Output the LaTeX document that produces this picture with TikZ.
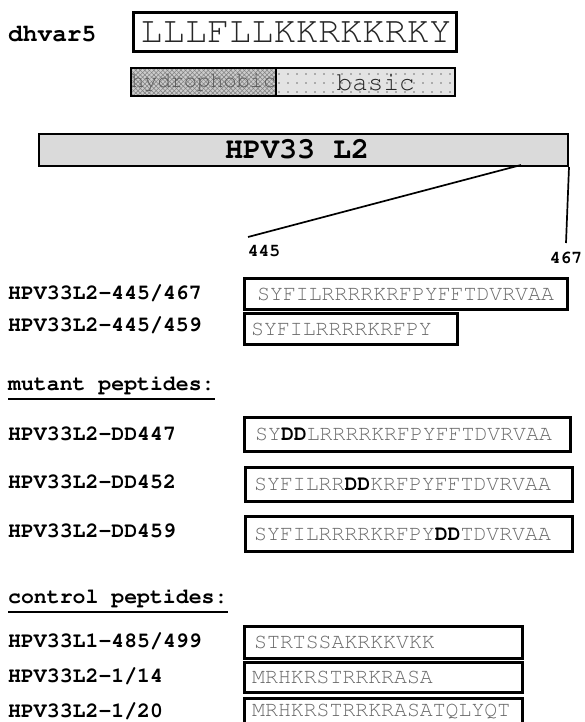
\documentclass[tikz,border=0pt]{standalone}
\usetikzlibrary{patterns.meta}
\newcommand\courfam{\fontencoding{T1}\fontfamily{pcr}}
\newcommand\labfont{\courfam\bfseries\fontsize{21.5}{24}\selectfont}
\newcommand\seqfont{\courfam\mdseries\fontsize{21.5}{24}\selectfont}
\newcommand\seqbold{\bfseries\color{black}}
\definecolor{seqgray}{HTML}{6A6A6A}
\definecolor{bargray}{HTML}{DADADA}
\begin{document}
\begin{tikzpicture}[x=1pt,y=-1pt,
  lab/.style={anchor=west, font=\labfont, inner sep=0pt},
  pbox/.style={draw, line width=2.6pt, anchor=north west, inner sep=0pt},
  seqtxt/.style={anchor=west, font=\seqfont, text=seqgray, inner sep=0pt},
  ttl/.style={anchor=west, font=\labfont, inner sep=0pt}]
\useasboundingbox (0,0) rectangle (584,722);
% dhvar5
\node[lab, font=\courfam\bfseries\fontsize{24.5}{28}\selectfont] (dh) at (8,34) {dhvar5};
\node[pbox, minimum width=323pt, minimum height=39pt] (dhbox) at (132,11) {};
\node[font=\courfam\mdseries\fontsize{37}{40}\selectfont, text=black!85, inner sep=0pt] (dhseq) at ([xshift=1pt]dhbox.center) {LLLFLLKKRKKRKY};
% hydrophobic / basic
\node[anchor=north west, minimum width=145pt, minimum height=28pt, inner sep=0pt] (hyd) at (131,68) {};
\node[anchor=north west, minimum width=179pt, minimum height=28pt, inner sep=0pt] (bas) at (276,68) {};
\fill[gray!40] (hyd.north west) rectangle (hyd.south east);
\fill[pattern={Lines[angle=45,distance=3.2pt,line width=0.55pt]}, pattern color=black!50] (hyd.north west) rectangle (hyd.south east);
\fill[pattern={Lines[angle=-45,distance=3.2pt,line width=0.55pt]}, pattern color=black!50] (hyd.north west) rectangle (hyd.south east);
\fill[gray!22] (bas.north west) rectangle (bas.south east);
\fill[pattern={Dots[radius=0.8pt,distance=9pt]}, pattern color=black!55] (bas.north west) rectangle (bas.south east);
\node[font=\courfam\mdseries\fontsize{22}{24}\selectfont, text=black!65, inner sep=0pt] (hydt) at (hyd.center) {hydrophobic};
\node[font=\courfam\mdseries\fontsize{26}{28}\selectfont, text=black!85, inner sep=0pt] (bast) at ([xshift=10pt]bas.center) {basic};
\draw[line width=2pt] (hyd.north west) rectangle (bas.south east);
\draw[line width=2pt] (hyd.north east) -- (hyd.south east);
% HPV33 L2 bar
\node[draw, line width=2pt, fill=bargray, anchor=north west, minimum width=529pt, minimum height=32pt, inner sep=0pt] (bar) at (38,133) {};
\node[font=\courfam\bfseries\fontsize{30}{34}\selectfont, inner sep=0pt] (bart) at (297,149) {HPV33 L2};
\coordinate (s445) at (521,165);
\coordinate (e445) at (248,237);
\coordinate (e467) at (566,243);
\draw[line width=1.7pt] (s445) -- (e445);
\draw[line width=1.7pt] (bar.south east) -- (e467);
\node[font=\courfam\bfseries\fontsize{18}{20}\selectfont, inner sep=0pt] (n445) at (264,251) {445};
\node[font=\courfam\bfseries\fontsize{18}{20}\selectfont, inner sep=0pt] (n467) at (566,258) {467};
% wild type peptides
\node[lab] (l1) at (8,294) {HPV33L2-445/467};
\node[pbox, minimum width=323pt, minimum height=31pt] (p1) at (243,277) {};
\node[seqtxt] (s1) at ([xshift=14pt]p1.west) {SYFILRRRRKRFPYFFTDVRVAA};
\node[lab] (l2) at (8,326) {HPV33L2-445/459};
\node[pbox, minimum width=213pt, minimum height=31pt] (p2) at (243,312) {};
\node[seqtxt] (s2) at ([xshift=8pt]p2.west) {SYFILRRRRKRFPY};
% mutant peptides
\node[ttl] (mt) at (8,385) {mutant peptides:};
\draw[line width=1.5pt] ([yshift=-5pt]mt.south west) -- ([yshift=-5pt]mt.south east);
\node[lab] (l3) at (8,434) {HPV33L2-DD447};
\node[pbox, minimum width=326pt, minimum height=34pt] (p3) at (243,416) {};
\node[seqtxt] (s3) at ([xshift=12pt]p3.west) {SY{\seqbold DD}LRRRRKRFPYFFTDVRVAA};
\node[lab] (l4) at (8,482) {HPV33L2-DD452};
\node[pbox, minimum width=327pt, minimum height=34pt] (p4) at (244,466) {};
\node[seqtxt] (s4) at ([xshift=10pt]p4.west) {SYFILRR{\seqbold DD}KRFPYFFTDVRVAA};
\node[lab] (l5) at (8,531) {HPV33L2-DD459};
\node[pbox, minimum width=327pt, minimum height=35pt] (p5) at (244,515) {};
\node[seqtxt] (s5) at ([xshift=10pt]p5.west) {SYFILRRRRKRFPY{\seqbold DD}TDVRVAA};
% control peptides
\node[ttl] (ct) at (8,598) {control peptides:};
\draw[line width=1.5pt] ([yshift=-5pt]ct.south west) -- ([yshift=-5pt]ct.south east);
\node[lab] (l6) at (8,641) {HPV33L1-485/499};
\node[pbox, minimum width=278pt, minimum height=32pt] (p6) at (243,625) {};
\node[seqtxt] (s6) at ([xshift=11pt]p6.west) {STRTSSAKRKKVKK};
\node[lab] (l7) at (8,676) {HPV33L2-1/14};
\node[pbox, minimum width=278pt, minimum height=30pt] (p7) at (243,661) {};
\node[seqtxt] (s7) at ([xshift=9pt]p7.west) {MRHKRSTRRKRASA};
\node[lab] (l8) at (8,711) {HPV33L2-1/20};
\node[pbox, minimum width=278pt, minimum height=34pt] (p8) at (243,697) {};
\coordinate (t8) at (252,711.5);
\node[seqtxt] (s8) at (t8) {MRHKRSTRRKRASATQLYQT};
\end{tikzpicture}
\end{document}
